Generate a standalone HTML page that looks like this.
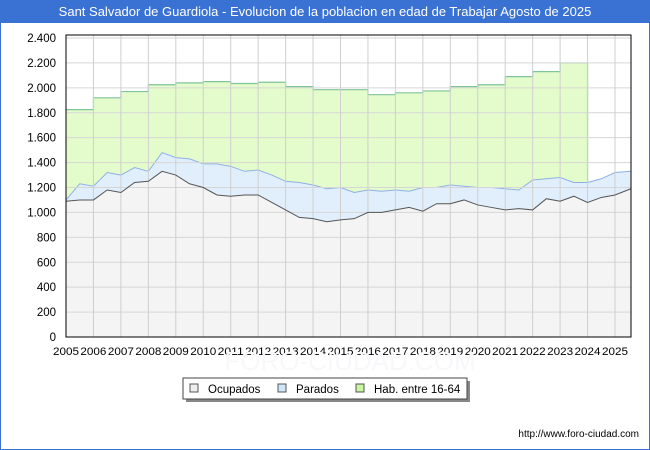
<!DOCTYPE html>
<html><head><meta charset="utf-8"><style>
body{margin:0;width:650px;height:450px;overflow:hidden;font-family:"Liberation Sans","DejaVu Sans",sans-serif;background:#fff}
#frame{position:absolute;left:0;top:0;width:648px;height:448px;border:1px solid #3a72d4}
#title{position:absolute;left:0;top:0;width:650px;height:23px;background:#3a72d4;color:#fff;font-size:13px;line-height:23px;text-align:center}
</style></head><body>
<div id="frame"></div>
<div id="title">Sant Salvador de Guardiola - Evolucion de la poblacion en edad de Trabajar Agosto de 2025</div>
<svg id="chart" width="650" height="450" style="position:absolute;left:0;top:0"></svg>
<script>
const times=[2005,2005.5,2006,2006.5,2007,2007.5,2008,2008.5,2009,2009.5,2010,2010.5,2011,2011.5,2012,2012.5,2013,2013.5,2014,2014.5,2015,2015.5,2016,2016.5,2017,2017.5,2018,2018.5,2019,2019.5,2020,2020.5,2021,2021.5,2022,2022.5,2023,2023.5,2024,2024.5,2025,2025.58];
const ocupados=[1090,1100,1100,1180,1160,1240,1250,1330,1300,1230,1200,1140,1130,1140,1140,1080,1020,960,950,925,940,950,1000,1000,1020,1040,1010,1070,1070,1100,1060,1040,1020,1030,1020,1110,1090,1130,1080,1120,1140,1190];
const parados=[10,130,110,140,140,120,80,150,140,200,190,250,240,190,200,220,230,280,270,265,260,210,180,170,160,130,190,130,150,110,140,160,170,150,240,160,190,110,160,150,180,140];
const habYears=[2005,2006,2007,2008,2009,2010,2011,2012,2013,2014,2015,2016,2017,2018,2019,2020,2021,2022,2023];
const habValues=[1825,1920,1970,2025,2040,2050,2035,2045,2010,1985,1985,1945,1960,1975,2010,2025,2090,2130,2200];
const yTicks=[0,200,400,600,800,1000,1200,1400,1600,1800,2000,2200,2400];
const yTickLabels=["0","200","400","600","800","1.000","1.200","1.400","1.600","1.800","2.000","2.200","2.400"];
const xTicks=[2005,2006,2007,2008,2009,2010,2011,2012,2013,2014,2015,2016,2017,2018,2019,2020,2021,2022,2023,2024,2025];

const L=66,R=631,T=35,B=337;
const X=t=>L+(t-2005)*27.45;
const Y=v=>B-v*299/2400;
const svg=document.getElementById('chart');
const NS='http://www.w3.org/2000/svg';
function mk(tag,attrs){const e=document.createElementNS(NS,tag);for(const k in attrs)e.setAttribute(k,attrs[k]);svg.appendChild(e);return e;}

let e=mk('rect',{x:L,y:T,width:R-L,height:B-T,fill:'#fff'});



const total=ocupados.map((o,i)=>o+parados[i]);
let hp='';
habYears.forEach((yr,i)=>{hp+=(i?'L':'M')+X(yr)+','+Y(habValues[i])+' L'+X(yr+1)+','+Y(habValues[i])+' ';});
const endHab=habYears[habYears.length-1]+1;
hp+='L'+X(endHab)+','+Y(1240)+' L'+X(endHab)+','+B+' L'+X(2005)+','+B+' Z';
e=mk('path',{d:hp,fill:'#e4fccb',stroke:'none'});


let hl='';
habYears.forEach((yr,i)=>{hl+=(i?'L':'M')+X(yr)+','+Y(habValues[i])+' L'+X(yr+1)+','+Y(habValues[i])+' ';});
hl+='L'+X(endHab)+','+Y(1240);
e=mk('path',{d:hl,fill:'none',stroke:'#7fc49a','stroke-width':1.2});



function linePts(arr){return arr.map((v,i)=>X(times[i])+','+Y(v)).join(' ');}
e=mk('polygon',{points:linePts(total)+' '+X(times[times.length-1])+','+B+' '+X(2005)+','+B,fill:'#e1effd'});


e=mk('polyline',{points:linePts(total),fill:'none',stroke:'#8fb0e6','stroke-width':1});


e=mk('polygon',{points:linePts(ocupados)+' '+X(times[times.length-1])+','+B+' '+X(2005)+','+B,fill:'#f4f4f4'});



yTicks.forEach((v,i)=>{
 if(v>0){const g=mk('line',{x1:L,x2:R,y1:Y(v),y2:Y(v),stroke:'#d6d6d6','stroke-width':1});
 
 }
 const t=mk('text',{x:L-10,y:Y(v)+4,'text-anchor':'end','font-size':11.5,fill:'#000'});
 t.textContent=yTickLabels[i];
 
 
});
xTicks.forEach(yr=>{
 if(yr>2005){const g=mk('line',{x1:X(yr),x2:X(yr),y1:T,y2:B,stroke:'#cfcfcf','stroke-width':1});
 
 }
 const t=mk('text',{x:X(yr),y:355,'text-anchor':'middle','font-size':11,fill:'#000','textLength':26,'lengthAdjust':'spacingAndGlyphs'});
 t.textContent=yr;
 
 
});
e=mk('polyline',{points:linePts(ocupados),fill:'none',stroke:'#555','stroke-width':1});


e=mk('rect',{x:L,y:T,width:R-L,height:B-T,fill:'none',stroke:'#000','stroke-width':1});



e=mk('text',{x:350,y:370,'text-anchor':'middle','font-size':26,fill:'#f8f8fb'});
e.textContent='FORO-CIUDAD.COM';



e=mk('rect',{x:186,y:381,width:284,height:21,fill:'#888'});


e=mk('rect',{x:183,y:378,width:284,height:21,fill:'#fff',stroke:'#444','stroke-width':1});


const legNames=['Ocupados','Parados','Hab. entre 16-64'];
const legColors=['#eeeeee','#cfe6fb','#c8f5a0'];
const legX=[190,278,356];
legNames.forEach((n,i)=>{
 const r=mk('rect',{x:legX[i],y:384,width:8,height:8,fill:legColors[i],stroke:'#555','stroke-width':1});
 
 
 const t=mk('text',{x:legX[i]+18,y:393,'font-size':11.5,fill:'#000'});
 t.textContent=n;
 
 
});
e=mk('text',{x:639,y:437,'text-anchor':'end','font-size':10,fill:'#000'});
e.textContent='http://www.foro-ciudad.com';


</script>
</body></html>
